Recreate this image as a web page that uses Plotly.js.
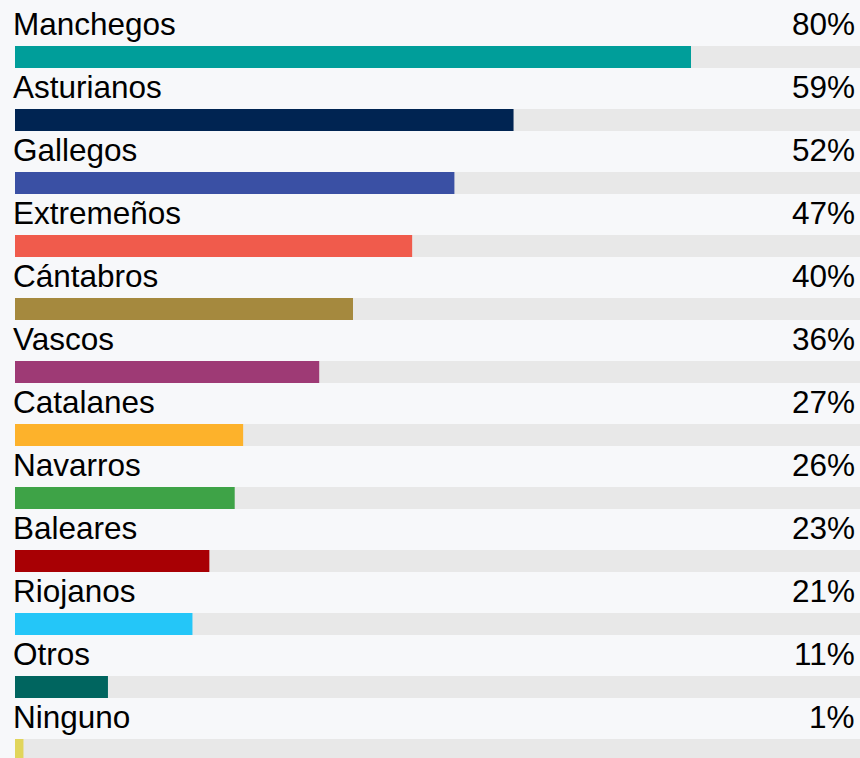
<!DOCTYPE html>
<html>
<head>
<meta charset="utf-8">
<script src="https://cdn.plot.ly/plotly-3.0.1.min.js"></script>
<style>
html,body{margin:0;padding:0;background:#f7f8fa;}
#chart{width:860px;height:758px;}
</style>
</head>
<body>
<div id="chart"></div>
<script>
const categories = ["Manchegos","Asturianos","Gallegos","Extremeños","Cántabros","Vascos","Catalanes","Navarros","Baleares","Riojanos","Otros","Ninguno"];
const values = [80,59,52,47,40,36,27,26,23,21,11,1];
const colors = ["#009e9a","#002452","#3a50a4","#f05b4c","#a5893e","#9e3a75","#fdb22b","#3ea347","#a80004","#24c6f8","#00655f","#e1d55b"];

const idx = categories.map((_, i) => i);
const pitch = 63, firstCenter = 57, H = 758, barPx = 22;
const yTop = -firstCenter / pitch;
const yBot = (H - firstCenter) / pitch;

const trackTrace = {
  type: 'bar', orientation: 'h',
  x: categories.map(() => 100), y: idx,
  width: barPx / pitch,
  marker: {color: '#e8e8e8', line: {width: 0}},
  hoverinfo: 'skip', showlegend: false
};
const valueTrace = {
  type: 'bar', orientation: 'h',
  x: values, y: idx,
  width: barPx / pitch,
  marker: {color: colors, line: {width: 0}},
  hoverinfo: 'skip', showlegend: false
};

const labelY = i => i - (firstCenter - 24) / pitch;
const annotations = [];
categories.forEach((c, i) => {
  annotations.push({
    text: c, xref: 'paper', x: 0, xanchor: 'left', xshift: -4,
    yref: 'y', y: labelY(i), yanchor: 'middle', showarrow: false,
    font: {family: 'Liberation Sans, Arial, sans-serif', size: 31.5, color: '#000'}
  });
  annotations.push({
    text: values[i] + '%', xref: 'paper', x: 1, xanchor: 'right', xshift: -3,
    yref: 'y', y: labelY(i), yanchor: 'middle', showarrow: false,
    font: {family: 'Liberation Sans, Arial, sans-serif', size: 31.5, color: '#000'}
  });
});

const layout = {
  width: 860, height: 758,
  margin: {l: 15, r: 0, t: 0, b: 0, pad: 0},
  paper_bgcolor: '#f7f8fa', plot_bgcolor: '#f7f8fa',
  barmode: 'overlay',
  xaxis: {range: [0, 100], visible: false, fixedrange: true},
  yaxis: {range: [yBot, yTop], visible: false, fixedrange: true},
  annotations: annotations,
  showlegend: false
};

Plotly.newPlot('chart', [trackTrace, valueTrace], layout, {staticPlot: true, displayModeBar: false});
</script>
</body>
</html>
